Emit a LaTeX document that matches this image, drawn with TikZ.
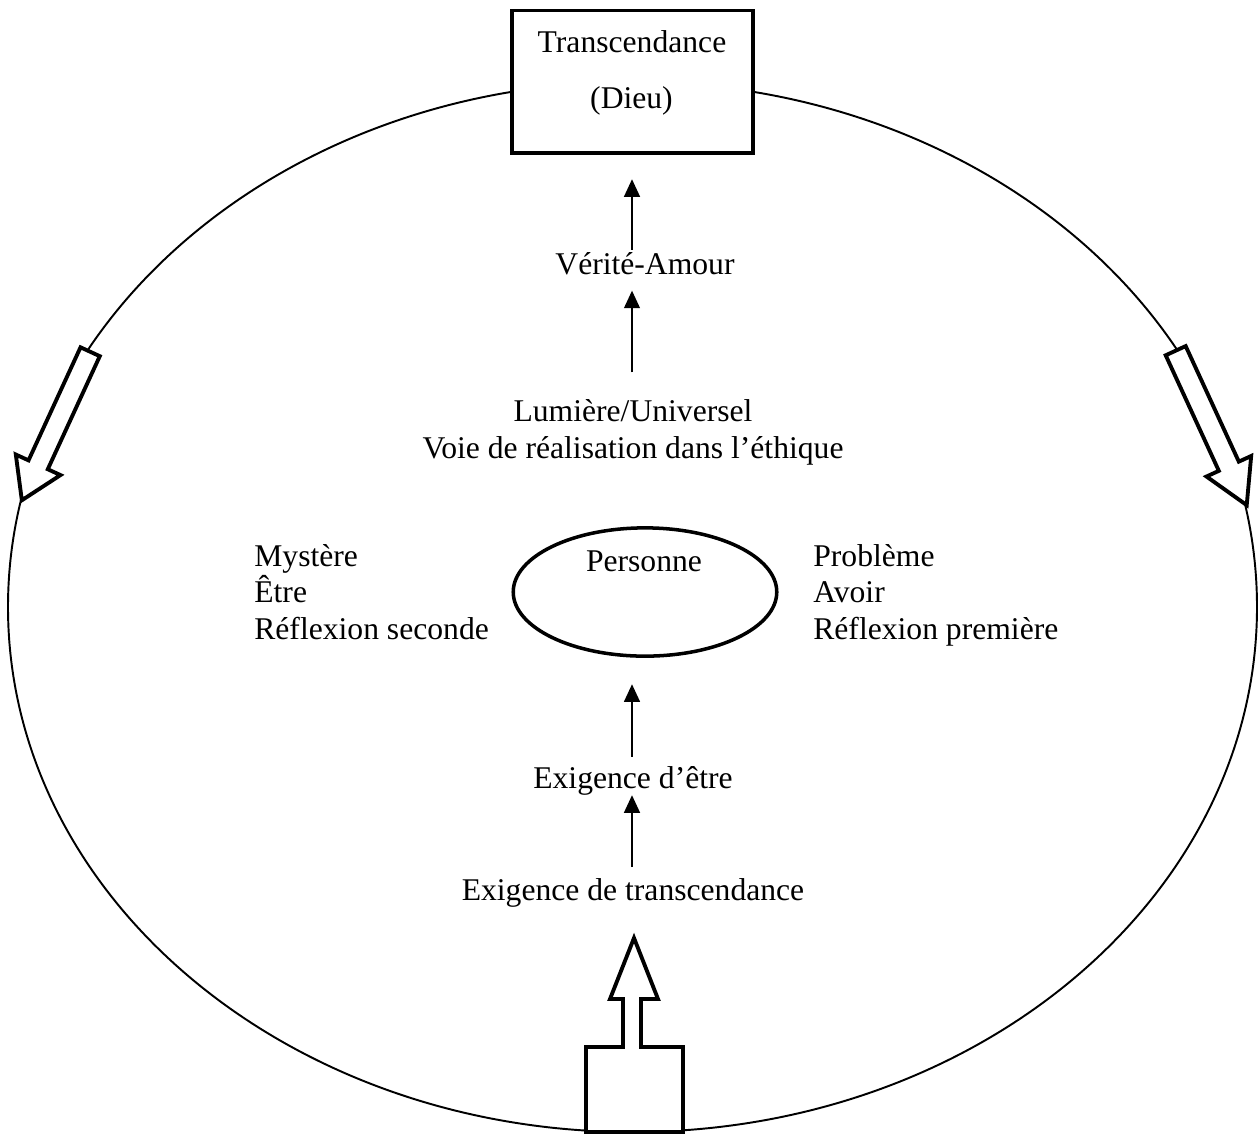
\documentclass[tikz,border=0pt]{standalone}
\usepackage{fontspec}
\setmainfont{Liberation Serif}
\usetikzlibrary{arrows.meta, positioning, shapes.geometric, calc}

\begin{document}
\begin{tikzpicture}[x=0.02cm, y=-0.02cm,
    every node/.style={font=\fontsize{18}{21}\selectfont},
    lbl/.style={inner sep=0pt, anchor=base},
    lblg/.style={inner sep=0pt, anchor=base west},
    contour/.style={line width=1.1pt},
    boite/.style={draw, fill=white, line width=2pt, minimum width=137pt, minimum height=81pt},
    ovale/.style={draw, ellipse, line width=2pt, minimum width=150pt, minimum height=73pt},
    fleche/.style={-{Triangle[width=9pt, length=10pt]}, line width=1pt},
    creux/.style={draw, fill=white, line width=2.2pt, line join=miter}]
            \useasboundingbox (0,0) rectangle (1258,1134);
            % grand cercle
            \draw[contour] (632.5,607) ellipse [x radius=624.5, y radius=525];
            \node[boite] (dieu) at (632.5,81.7) {};
            \node[lbl] (transc) at (632,52) {Transcendance};
            \node[lbl] (dieutxt) at (631.5,108) {(Dieu)};
            % fleches creuses
            \begin{scope}[shift={(56,426)}, rotate=245.3]
                \draw[creux] (-81.75,-10.6) -- (42.7,-10.6) -- (42.7,-24.6) -- (81.75,0)
                    -- (42.7,24.6) -- (42.7,10.6) -- (-81.75,10.6) -- cycle;
            \end{scope}
            \begin{scope}[shift={(1211.2,427.9)}, rotate=294.7]
                \draw[creux] (-85,-11) -- (42.2,-11) -- (42.2,-24.6) -- (85,0)
                    -- (42.2,24.6) -- (42.2,11) -- (-85,11) -- cycle;
            \end{scope}
            \draw[creux] (586,1132) -- (586,1047) -- (623,1047) -- (623,999) -- (610,999)
                -- (634,938) -- (658,999) -- (641,999) -- (641,1047) -- (683,1047)
                -- (683,1132) -- cycle;
            % textes
            \node[lbl] (verite) at (645,274) {Vérité-Amour};
            \node[lbl] (lumiere) at (633,421) {Lumière/Universel};
            \node[lbl] (voie) at (633,458) {Voie de réalisation dans l’éthique};
            \node[ovale] (personne) at (645,592) {};
            \node[lbl] (personnetxt) at (644,571) {Personne};
            \node[lblg] (mystere) at (254,566) {Mystère};
            \node[lblg] (etre) at ([yshift=-21pt]mystere.base west) {Être};
            \node[lblg] (refsec) at ([yshift=-21pt]etre.base west) {Réflexion seconde};
            \node[lblg] (probleme) at (813,566) {Problème};
            \node[lblg] (avoir) at ([yshift=-21pt]probleme.base west) {Avoir};
            \node[lblg] (refprem) at ([yshift=-21pt]avoir.base west) {Réflexion première};
            \node[lbl] (exetre) at (633,788) {Exigence d’être};
            \node[lbl] (extrans) at (633,900) {Exigence de transcendance};
            % fleches
            \coordinate (axe) at (632,0);
            \draw[fleche, shorten <=1pt, shorten >=14pt] (verite.north -| axe) -- (dieu.south -| axe);
            \draw[fleche, shorten <=15pt, shorten >=9pt] (lumiere.north -| axe) -- (verite.south -| axe);
            \draw[fleche, shorten <=5pt, shorten >=15pt] (exetre.north -| axe) -- (personne.south -| axe);
            \draw[fleche, shorten <=6pt] (extrans.north -| axe) -- (exetre.south -| axe);
        \end{tikzpicture}
\end{document}
